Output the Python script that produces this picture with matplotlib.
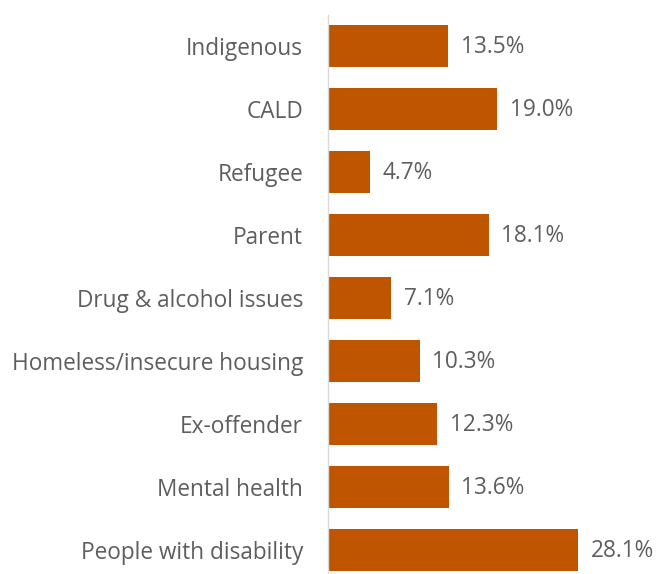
import matplotlib.pyplot as plt

plt.rcParams['font.family'] = ['Open Sans', 'DejaVu Sans']

categories = ["Indigenous", "CALD", "Refugee", "Parent", "Drug & alcohol issues",
              "Homeless/insecure housing", "Ex-offender", "Mental health",
              "People with disability"]
values = [13.5, 19.0, 4.7, 18.1, 7.1, 10.3, 12.3, 13.6, 28.1]
labels = ["13.5%", "19.0%", "4.7%", "18.1%", "7.1%", "10.3%", "12.3%", "13.6%", "28.1%"]

BAR = "#C05500"
TXT = "#5E5E5E"

fig = plt.figure(figsize=(6.58, 5.74), dpi=100)
ax = fig.add_axes([328 / 658, 0, 330 / 658, (574 - 15) / 574])

ypos = list(range(len(categories)))
ax.barh(ypos, values, height=0.66, color=BAR)

for y, v, lab in zip(ypos, values, labels):
    ax.annotate(lab, (v, y), xytext=(9, -1), textcoords="offset points",
                ha="left", va="center", fontsize=16.3, color=TXT)

ax.set_xlim(0, 37.1)
ax.set_ylim(8.38, -0.49)
ax.set_yticks(ypos)
ax.set_yticklabels(categories, fontsize=16.3, color=TXT)
ax.tick_params(axis="y", length=0, pad=18)
ax.set_xticks([])
for s in ["top", "right", "bottom"]:
    ax.spines[s].set_visible(False)
ax.spines["left"].set_color("#D9D9D9")
ax.spines["left"].set_linewidth(1)

fig.savefig("out.png", dpi=100)
